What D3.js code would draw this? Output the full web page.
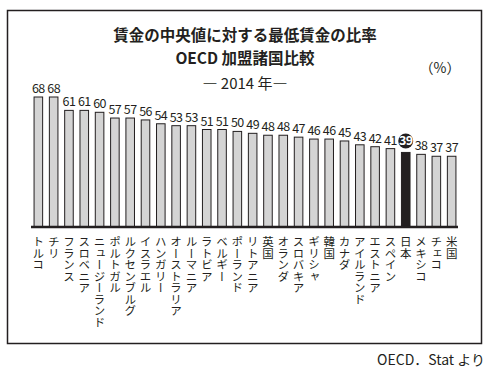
<!DOCTYPE html>
<html>
<head>
<meta charset="utf-8">
<script src="https://cdn.jsdelivr.net/npm/d3@7"></script>
<style>
  body { margin: 0; background: #fff; }
  svg { display: block; }
  text { font-family: "Noto Sans CJK JP", "Noto Sans", sans-serif; fill: #231f20; }
</style>
</head>
<body>
<div id="chart"></div>
<script>
// datos del grafico
var countries = ["トルコ", "チリ", "フランス", "スロベニア", "ニュージーランド", "ポルトガル",
  "ルクセンブルグ", "イスラエル", "ハンガリー", "オーストラリア", "ルーマニア", "ラトビア",
  "ベルギー", "ポーランド", "リトアニア", "英国", "オランダ", "スロバキア", "ギリシャ", "韓国",
  "カナダ", "アイルランド", "エストニア", "スペイン", "日本", "メキシコ", "チェコ", "米国"];
var ratios = [68, 68, 61, 61, 60, 57, 57, 56, 54, 53, 53, 51, 51, 50, 49, 48, 48, 47, 46, 46,
  45, 43, 42, 41, 39, 38, 37, 37];
var highlight = "日本";
var titleLines = ["賃金の中央値に対する最低賃金の比率", "OECD 加盟諸国比較", "― 2014 年―"];
var unitLabel = "（%）";
var sourceLabel = "OECD．Stat より";

var width = 489,
    height = 376,
    baseY = 227

var svg = d3.select("#chart")
  .append("svg")
    .attr("width", width)
    .attr("height", height)

// marco
svg.append("rect")
  .attr("x", 7.5).attr("y", 10.5)
  .attr("width", 474).attr("height", 333)
  .attr("fill", "none").attr("stroke", "#231f20").attr("stroke-width", 1.5)

// titulos
svg.append("text").attr("x", 245).attr("y", 41).attr("text-anchor", "middle")
  .style("font-size", "15.5px").style("font-weight", "bold").text(titleLines[0])
svg.append("text").attr("x", 245).attr("y", 64).attr("text-anchor", "middle")
  .style("font-size", "15.5px").style("font-weight", "bold").text(titleLines[1])
svg.append("text").attr("x", 245).attr("y", 89).attr("text-anchor", "middle")
  .style("font-size", "15px").text(titleLines[2])
svg.append("text").attr("x", 440).attr("y", 73).attr("text-anchor", "middle")
  .style("font-size", "14px").text(unitLabel)

// escalas
var x = d3.scaleBand()
  .domain(countries)
  .range([31, 459])
  .paddingInner(0.44)
  .paddingOuter(0.2)

var y = d3.scaleLinear()
  .domain([0, 68])
  .range([baseY, 97])

var data = countries.map(function (c, i) { return {name: c, value: ratios[i]}; })

// barras
svg.selectAll("rect.bar")
  .data(data)
  .enter()
  .append("rect")
    .attr("class", "bar")
    .attr("x", function (d) { return x(d.name); })
    .attr("y", function (d) { return y(d.value); })
    .attr("width", x.bandwidth())
    .attr("height", function (d) { return baseY - y(d.value); })
    .attr("fill", function (d) { return d.name == highlight ? "#231f20" : "#d4d4d4"; })
    .attr("stroke", "#231f20")
    .attr("stroke-width", 1)

// eje
svg.append("line")
  .attr("x1", 31).attr("x2", 458)
  .attr("y1", baseY).attr("y2", baseY)
  .attr("stroke", "#231f20").attr("stroke-width", 2.5)

// valores
svg.selectAll("text.val")
  .data(data.filter(function (d) { return d.name != highlight; }))
  .enter()
  .append("text")
    .attr("class", "val")
    .attr("x", function (d) { return x(d.name) + x.bandwidth() / 2; })
    .attr("y", function (d) { return y(d.value) - 4; })
    .attr("text-anchor", "middle")
    .style("font-size", "12.5px")
    .style("letter-spacing", "-0.6px")
    .text(function (d) { return d.value; })

// valor destacado (Japon)
var jp = data.filter(function (d) { return d.name == highlight; })[0]
svg.append("circle")
  .attr("cx", x(jp.name) + x.bandwidth() / 2)
  .attr("cy", y(jp.value) - 11.5)
  .attr("r", 7.5)
  .attr("fill", "#231f20")
svg.append("text")
  .attr("x", x(jp.name) + x.bandwidth() / 2)
  .attr("y", y(jp.value) - 7)
  .attr("text-anchor", "middle")
  .style("font-size", "12.5px")
  .style("font-weight", "bold")
  .style("letter-spacing", "-0.6px")
  .style("fill", "#fff")
  .text(jp.value)

// nombres en vertical
svg.selectAll("text.cat")
  .data(countries)
  .enter()
  .append("text")
    .attr("class", "cat")
    .attr("x", function (d) { return x(d) + x.bandwidth() / 2; })
    .attr("y", 236)
    .style("writing-mode", "vertical-rl")
    .style("text-orientation", "upright")
    .style("font-size", "11.5px")
    .text(function (d) { return d; })

// fuente
svg.append("text").attr("x", 485).attr("y", 365).attr("text-anchor", "end")
  .style("font-size", "14px").text(sourceLabel)
</script>
</body>
</html>
